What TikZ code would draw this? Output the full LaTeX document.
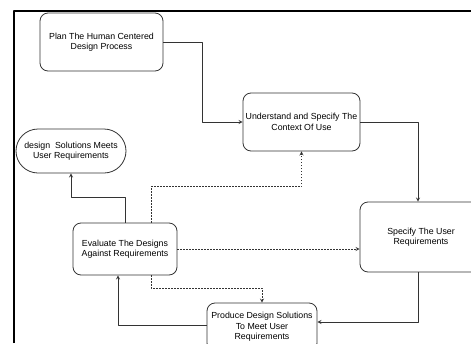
\documentclass[tikz,border=0pt]{standalone}
\usepackage{fontspec}
\setmainfont{Liberation Sans}
\begin{document}
\begin{tikzpicture}[x=1pt,y=-1pt,>=stealth, font=\fontsize{8.8}{10.4}\selectfont, line join=round,
box/.style={draw=black!80,line width=.8pt,rounded corners=8pt,align=center,inner sep=2pt},
link/.style={->,draw=black!80,line width=.8pt},
dotlink/.style={link,dash pattern=on 1.5pt off 1.5pt}]
\useasboundingbox (0,0) rectangle (471,343);
\begin{scope}
\clip (0,0) rectangle (471,343);
\draw[line width=1.5pt] (14,343)--(14,11)--(471,11);
\node[box,minimum width=123pt,minimum height=58pt] (plan) at (101.5,42) {Plan The Human Centered\\Design Process};
\node[box,minimum width=117pt,minimum height=58pt] (ctx) at (301.5,122) {Understand and Specify The\\Context Of Use};
\node[box,minimum width=122pt,minimum height=70pt] (req) at (421,237) {Specify The User\\Requirements};
\node[box,minimum width=110pt,minimum height=44pt,rounded corners=22pt] (meets) at (71,151) {design~ Solutions Meets\\User Requirements};
\node[box,minimum width=104pt,minimum height=52pt] (eval) at (125,249) {Evaluate The Designs\\Against Requirements};
\node[box,minimum width=110pt,minimum height=48pt] (prod) at (262,327) {Produce Design Solutions\\To Meet User\\Requirements};
\draw[link] (plan.east)--++(39,0) |- (ctx.west);
\draw[link] (ctx.east) -| ([xshift=-3pt]req.north);
\draw[link] ([xshift=-3pt]req.south) |- ([yshift=5pt]prod.east);
\draw[link] ([yshift=2pt]prod.west) -| ([xshift=-7pt]eval.south);
\draw[link] (eval.north)--++(0,-25) -| (meets.south);
\draw[dotlink] ([xshift=26pt]eval.north)--++(0,-36) -| (ctx.south);
\draw[dotlink] (eval.east)--(eval.east -| req.west);
\draw[dotlink] ([xshift=26pt]eval.south)--++(0,13) -| (prod.north);
\end{scope}
\end{tikzpicture}
\end{document}
